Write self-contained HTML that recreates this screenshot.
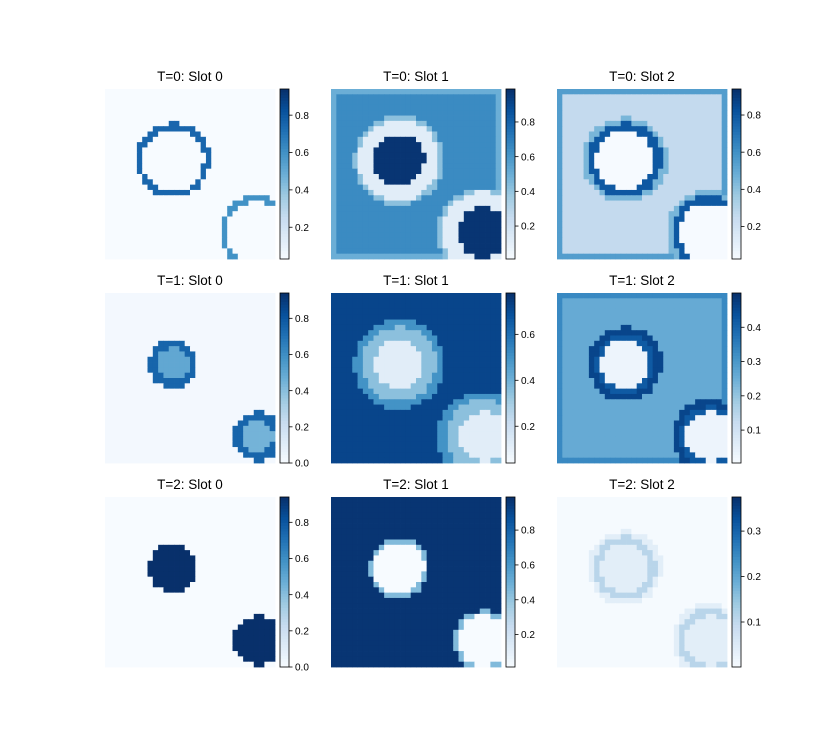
<!DOCTYPE html>
<html><head><meta charset="utf-8">
<style>
html,body{margin:0;padding:0;background:#fff;}
svg{display:block;font-family:"Liberation Sans","DejaVu Sans",sans-serif;}
</style></head>
<body>
<svg id="fig" width="825" height="750" viewBox="0 0 825 750" xmlns="http://www.w3.org/2000/svg"></svg>
<script>
// ---- data ----
const titles = ["T=0: Slot 0","T=0: Slot 1","T=0: Slot 2","T=1: Slot 0","T=1: Slot 1","T=1: Slot 2","T=2: Slot 0","T=2: Slot 1","T=2: Slot 2"];
const vmins = [0.03,0.01,0.025,0,0.04,0.004,0,0.014,0.001];
const vmaxs = [0.94,0.99,0.94,0.94,0.78,0.50,0.94,0.99,0.375];
const tickLists = [[0.2,0.4,0.6,0.8],[0.2,0.4,0.6,0.8],[0.2,0.4,0.6,0.8],[0.0,0.2,0.4,0.6,0.8],[0.2,0.4,0.6],[0.1,0.2,0.3,0.4],[0.0,0.2,0.4,0.6,0.8],[0.2,0.4,0.6,0.8],[0.1,0.2,0.3]];
const bgValues = [0.03,0.65,0.26,0.02,0.72,0.26,0.0,0.97,0.005];
const frameValues = [null,0.5,0.55,null,null,0.33,null,null,null];
const frameWidths = [0,1,1,0,0,1,0,0,0];
// discs per panel: [circleIndex, radius, value], painted in order
const circleCenters = [[12.8,13.4],[28.6,27.0]];
const discs = [
 [[0,7.0,0.75],[0,5.8,0.03],[1,7.0,0.6],[1,5.8,0.03]],
 [[0,8.5,0.42],[0,7.6,0.12],[0,4.8,0.97],[1,8.5,0.42],[1,7.6,0.12],[1,4.8,0.97]],
 [[0,8.0,0.45],[0,7.0,0.8],[0,5.5,0.03],[1,8.0,0.45],[1,7.0,0.8],[1,5.5,0.03]],
 [[0,4.6,0.75],[0,3.0,0.5],[1,4.6,0.75],[1,3.0,0.45]],
 [[0,8.5,0.5],[0,7.0,0.35],[0,4.6,0.12],[1,8.5,0.5],[1,7.0,0.35],[1,4.6,0.12]],
 [[0,7.0,0.46],[0,5.6,0.42],[0,4.6,0.03],[1,7.0,0.46],[1,5.6,0.42],[1,4.6,0.03]],
 [[0,4.6,0.94],[1,4.6,0.94]],
 [[0,5.6,0.45],[0,4.8,0.015],[1,5.6,0.45],[1,4.8,0.015]],
 [[0,7.0,0.04],[0,6.0,0.11],[0,4.6,0.04],[1,7.0,0.04],[1,6.0,0.11],[1,4.6,0.04]]
];
// ---- layout ----
const N=32, colX=[105,331,557], rowY=[89,293,497], S=170;
const stops=["#f7fbff","#deebf7","#c6dbef","#9ecae1","#6baed6","#4292c6","#2171b5","#08519c","#08306b"];
function hex(c){return [1,3,5].map(i=>parseInt(c.substr(i,2),16));}
function blues(t){t=Math.max(0,Math.min(1,t));const p=t*8,i=Math.min(7,Math.floor(p)),f=p-i;const a=hex(stops[i]),b=hex(stops[i+1]);return "rgb("+a.map((v,k)=>Math.round(v+(b[k]-v)*f)).join(",")+")";}
const svg=document.getElementById('fig'),NS="http://www.w3.org/2000/svg";
function mk(tag,attrs,parent){const e=document.createElementNS(NS,tag);for(const k in attrs)e.setAttribute(k,attrs[k]);(parent||svg).appendChild(e);return e;}
for(let p=0;p<9;p++){
 const x0=colX[p%3], y0=rowY[Math.floor(p/3)], cs=S/N;
 const g=mk('g',{});
 
 
 const yScale=v=>y0+S-(v-vmins[p])/(vmaxs[p]-vmins[p])*S;
 const col=v=>blues((v-vmins[p])/(vmaxs[p]-vmins[p]));
 for(let j=0;j<N;j++)for(let i=0;i<N;i++){
  let v=bgValues[p];
  const fw=frameWidths[p];
  if(fw>0&&(i<fw||j<fw||i>=N-fw||j>=N-fw))v=frameValues[p];
  for(const d of discs[p]){const c=circleCenters[d[0]];const dist=Math.hypot(i+0.5-c[0],j+0.5-c[1]);if(dist<=d[1])v=d[2];}
  const r=mk('rect',{x:(x0+i*cs).toFixed(2),y:(y0+j*cs).toFixed(2),width:(cs+0.4).toFixed(2),height:(cs+0.4).toFixed(2),fill:col(v)},g);
  
  
 }
 const t=mk('text',{x:x0+S/2,y:y0-8,'text-anchor':'middle','font-size':'13.5',fill:'#000'});
 t.textContent=titles[p];
 
 
 const cx=x0+175, cw=9;
 const cb=mk('g',{});
 
 
 const steps=60;
 for(let k=0;k<steps;k++){mk('rect',{x:cx,y:(y0+S-(k+1)*S/steps).toFixed(2),width:cw,height:(S/steps+0.5).toFixed(2),fill:blues((k+0.5)/steps)},cb);}
 mk('rect',{x:cx,y:y0,width:cw,height:S,fill:'none',stroke:'#000','stroke-width':0.8},cb);
 for(const tv of tickLists[p]){
  const y=yScale(tv);
  mk('line',{x1:cx+cw,x2:cx+cw+3.5,y1:y,y2:y,stroke:'#000','stroke-width':0.8},cb);
  const tl=mk('text',{x:cx+cw+6,y:y+3.6,'font-size':'10',fill:'#000'},cb);
  tl.textContent=tv.toFixed(1);
  
  
 }
}
</script>
</body></html>
